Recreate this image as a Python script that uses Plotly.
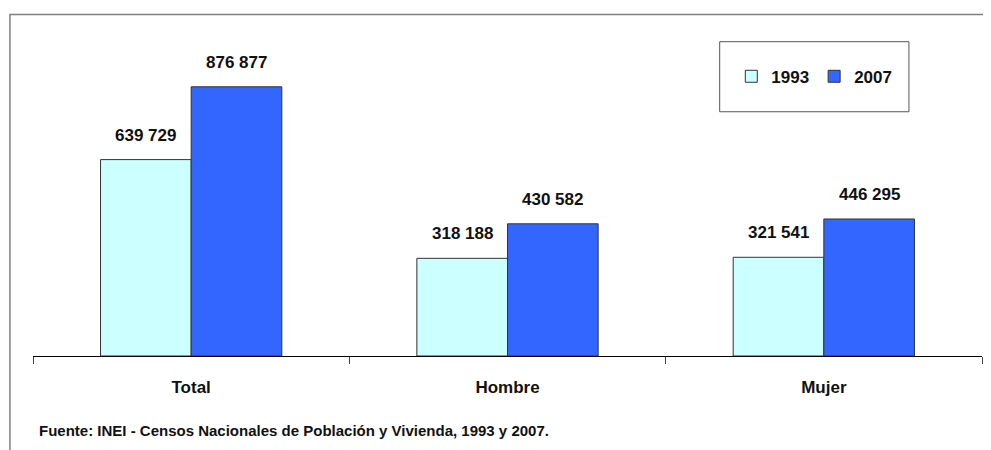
"""Poblacion censada por sexo, censos 1993 y 2007."""

import plotly.graph_objects as go

categories = ["Total", "Hombre", "Mujer"]
years = ["1993", "2007"]
values_1993 = [639729, 318188, 321541]
values_2007 = [876877, 430582, 446295]
source_text = "Fuente: INEI - Censos Nacionales de Población y Vivienda, 1993 y 2007."

FONT = "Liberation Sans, Arial, sans-serif"
COLORS = {"1993": "#CCFFFF", "2007": "#3366FF"}
BARGAP = 0.427


def fmt(v: int) -> str:
    return f"{v:,}".replace(",", " ")


fig = go.Figure()
for year, vals in zip(years, [values_1993, values_2007]):
    fig.add_trace(
        go.Bar(
            x=categories,
            y=vals,
            name=year,
            marker=dict(color=COLORS[year], line=dict(color="#333333", width=1)),
        )
    )

# value labels above each bar
annotations = []
offset = (1 - BARGAP) / 4
for sign, vals in zip([-1, 1], [values_1993, values_2007]):
    for i, v in enumerate(vals):
        annotations.append(
            dict(
                x=i + sign * offset,
                y=v,
                xref="x",
                yref="y",
                text=fmt(v),
                showarrow=False,
                yanchor="bottom",
                yshift=13,
                font=dict(family=FONT, size=17, color="#111111", weight="bold"),
            )
        )

annotations.append(
    dict(
        x=0.004,
        y=-0.242,
        xref="paper",
        yref="paper",
        xanchor="left",
        yanchor="middle",
        text=source_text,
        showarrow=False,
        font=dict(family=FONT, size=15, color="#111111", weight="bold"),
    )
)

# the page body adds an 8px offset, so margins are shifted to compensate
fig.update_layout(
    width=991,
    height=450,
    barmode="group",
    bargap=BARGAP,
    bargroupgap=0,
    plot_bgcolor="white",
    paper_bgcolor="white",
    margin=dict(l=25, r=17, t=41, b=102),
    showlegend=True,
    legend=dict(
        orientation="h",
        x=0.8233,
        y=0.9097,
        xanchor="center",
        yanchor="middle",
        bgcolor="rgba(0,0,0,0)",
        borderwidth=0,
        font=dict(family=FONT, size=17, color="#111111", weight="bold"),
    ),
    xaxis=dict(
        showline=True,
        linecolor="black",
        linewidth=1,
        ticks="outside",
        tickson="boundaries",
        ticklen=7,
        tickcolor="#444444",
        ticklabelstandoff=16,
        tickfont=dict(family=FONT, size=17, color="#111111", weight="bold"),
        showgrid=False,
    ),
    yaxis=dict(
        range=[0, 1000000],
        visible=False,
        showgrid=False,
    ),
    annotations=annotations,
    shapes=[
        # legend box
        dict(
            type="rect",
            xref="paper",
            yref="paper",
            x0=0.7236,
            x1=0.923,
            y0=0.7956,
            y1=1.0238,
            line=dict(color="#555555", width=1),
        ),
        # outer frame (top and left edges)
        dict(
            type="path",
            xref="paper",
            yref="paper",
            path="M -0.0243,-0.5 L -0.0243,1.1125 L 1.2,1.1125",
            line=dict(color="#808080", width=1.5),
        ),
    ],
)

fig.write_html("out.html")
